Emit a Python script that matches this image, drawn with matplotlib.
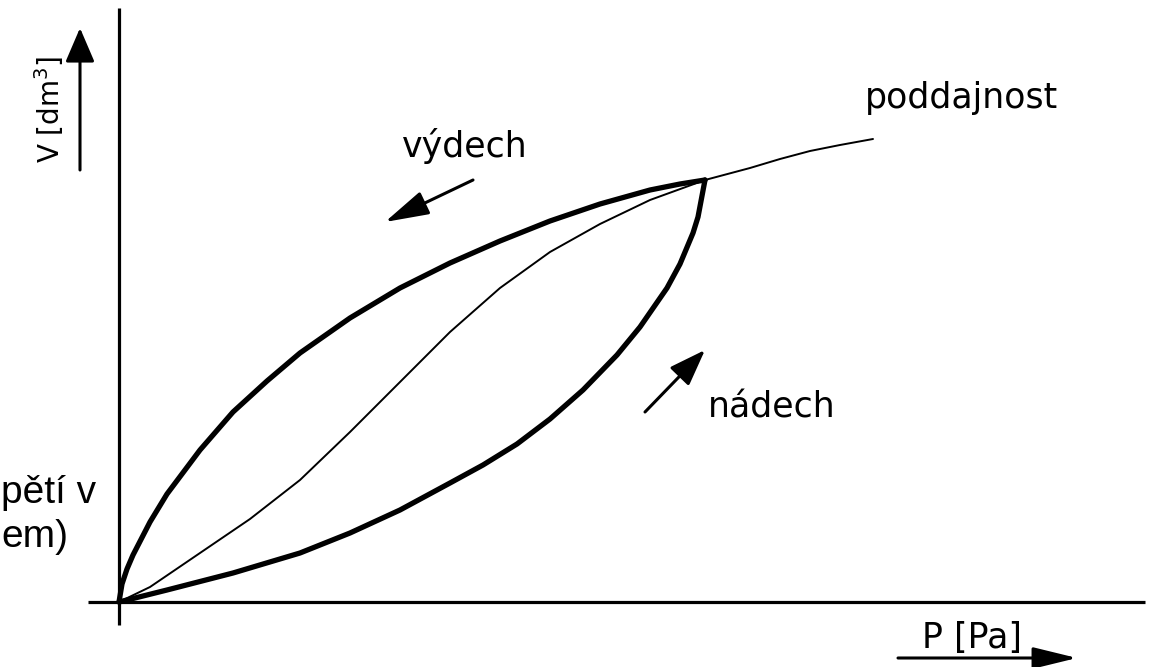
import matplotlib
matplotlib.use("Agg")
import matplotlib.pyplot as plt

# ---- data (P and V in arbitrary units) ----
exhale_P = [0, 0.03, 0.08, 0.14, 0.31, 0.48, 0.81, 1.14, 1.48, 1.81, 2.31, 2.81,
            3.31, 3.81, 4.31, 4.81, 5.31, 5.61, 5.86]
exhale_V = [0, 0.18, 0.33, 0.47, 0.80, 1.08, 1.52, 1.90, 2.21, 2.49, 2.84, 3.14,
            3.39, 3.61, 3.81, 3.98, 4.12, 4.18, 4.22]

compliance_P = [0, 0.31, 0.81, 1.31, 1.81, 2.31, 2.81, 3.31, 3.81, 4.31, 4.81, 5.31,
                5.86, 6.31, 6.61, 6.91, 7.21, 7.54]
compliance_V = [0, 0.15, 0.49, 0.83, 1.22, 1.70, 2.20, 2.70, 3.14, 3.50, 3.78, 4.02,
                4.22, 4.34, 4.43, 4.51, 4.57, 4.63]

inhale_P = [0, 0.48, 1.14, 1.81, 2.31, 2.81, 3.31, 3.64, 3.98, 4.31, 4.64, 4.98,
            5.21, 5.48, 5.61, 5.74, 5.79, 5.86]
inhale_V = [0, 0.12, 0.29, 0.49, 0.69, 0.92, 1.19, 1.37, 1.58, 1.83, 2.12, 2.47,
            2.75, 3.14, 3.38, 3.69, 3.85, 4.22]

axis_P_range = [-0.31, 10.26]
axis_V_range = [-0.23, 5.94]

label_compliance = "poddajnost"
label_exhale = "výdech"
label_inhale = "nádech"
label_x = "P [Pa]"
label_y = "V [dm$^3$]"
side_text_1 = "pětí v"
side_text_2 = "em)"

# ---- figure ----
plt.rcParams["mathtext.fontset"] = "dejavusans"
fig = plt.figure(figsize=(11.55, 6.67), dpi=100)
ax = fig.add_axes([0, 0, 1, 1])
ax.set_xlim(-1.19, 10.36)
ax.set_ylim(-0.65, 6.02)
ax.axis("off")

# axes of the diagram
ax.plot(axis_P_range, [0, 0], color="black", lw=2.3, solid_capstyle="butt")
ax.plot([0, 0], axis_V_range, color="black", lw=2.3, solid_capstyle="butt")

# curves
ax.plot(exhale_P, exhale_V, color="black", lw=3.8, solid_capstyle="round",
        solid_joinstyle="round")
ax.plot(inhale_P, inhale_V, color="black", lw=3.8, solid_capstyle="round",
        solid_joinstyle="round")
ax.plot(compliance_P, compliance_V, color="black", lw=1.4, solid_capstyle="round",
        solid_joinstyle="round")


def arrow(tail, tip, hl, hw, lw=2.2):
    ax.annotate("", xy=tip, xytext=tail,
                arrowprops=dict(arrowstyle=f"-|>,head_length={hl},head_width={hw}",
                                lw=lw, color="black", shrinkA=0, shrinkB=0,
                                mutation_scale=30))


arrow((-0.39, 4.32), (-0.39, 5.74), 0.7, 0.3)      # V axis arrow
arrow((7.79, -0.56), (9.58, -0.56), 0.9, 0.22)     # P axis arrow
arrow((3.54, 4.22), (2.66, 3.80), 0.9, 0.25)       # exhale arrow
arrow((5.26, 1.90), (5.86, 2.52), 0.75, 0.27)      # inhale arrow

font = "DejaVu Sans"
ax.text(7.46, 4.94, label_compliance, fontsize=25, family=font, ha="left", va="baseline")
ax.text(2.83, 4.45, label_exhale, fontsize=25, family=font, ha="left", va="baseline")
ax.text(5.89, 1.84, label_inhale, fontsize=25, family=font, ha="left", va="baseline")
ax.text(8.03, -0.46, label_x, fontsize=25, family=font, ha="left", va="baseline")
ax.text(-0.59, 4.39, label_y, fontsize=20, family=font, rotation=90,
        rotation_mode="anchor", ha="left", va="baseline")

ax.text(-1.18, 0.99, side_text_1, fontsize=28, family="Liberation Sans",
        ha="left", va="baseline")
ax.text(-1.18, 0.55, side_text_2, fontsize=28, family="Liberation Sans",
        ha="left", va="baseline")

fig.savefig("out.png", dpi=100, facecolor="white")
